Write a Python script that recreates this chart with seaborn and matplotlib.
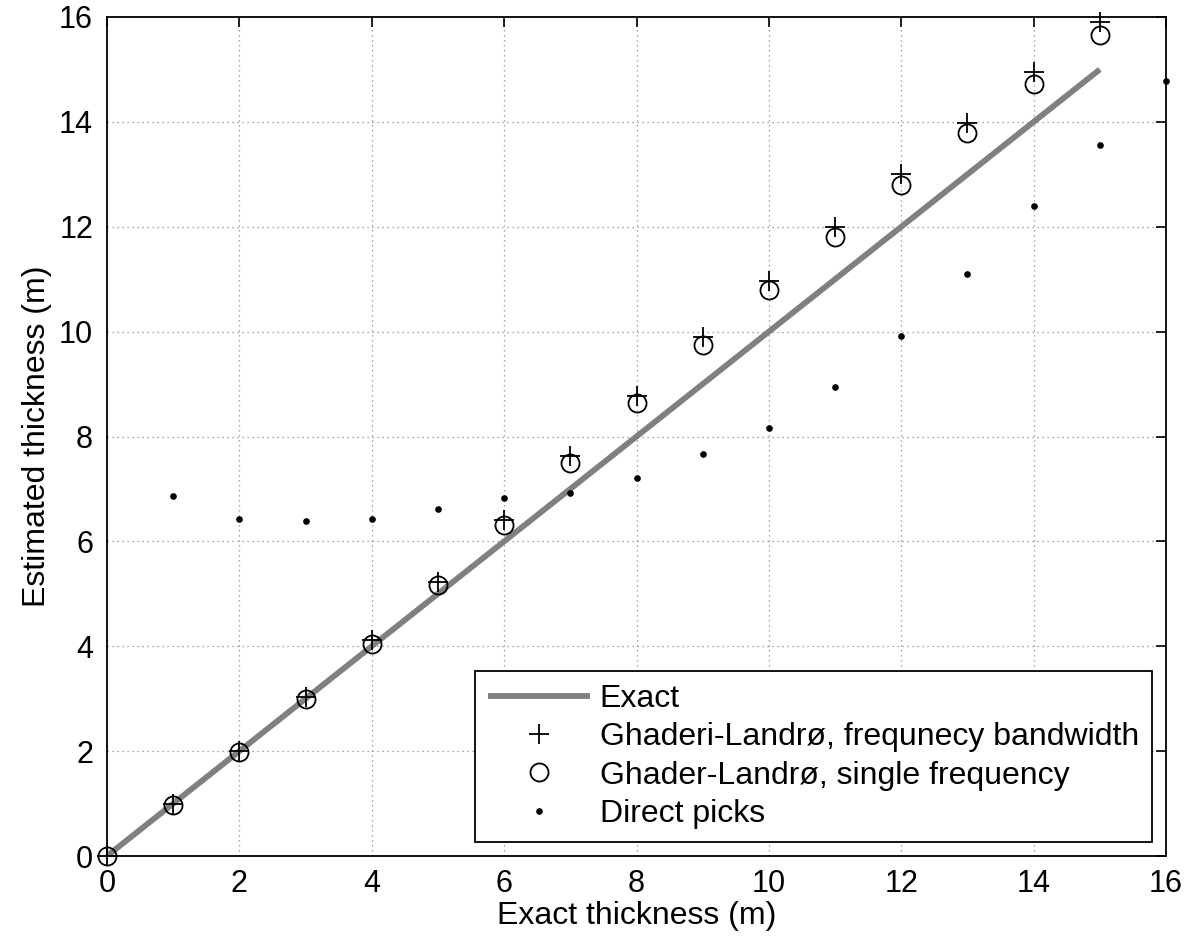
import matplotlib
matplotlib.use("Agg")
import matplotlib.pyplot as plt
import seaborn as sns
import numpy as np
import pandas as pd

# ---- data ----
exact_x = [0, 15]
exact_y = [0, 15]

gl_x = list(range(0, 16))
gl_band = [0.0, 1.0, 2.0, 3.04, 4.12, 5.23, 6.41, 7.63, 8.78, 9.90, 10.97, 11.99, 13.00, 13.98, 14.96, 15.90]
gl_single = [0.0, 0.97, 1.99, 3.0, 4.05, 5.16, 6.31, 7.50, 8.64, 9.75, 10.80, 11.81, 12.80, 13.78, 14.73, 15.66]

dp_x = list(range(1, 17))
dp_y = [6.86, 6.42, 6.39, 6.43, 6.62, 6.83, 6.92, 7.21, 7.67, 8.17, 8.95, 9.91, 11.10, 12.40, 13.55, 14.78]

xticks = [0, 2, 4, 6, 8, 10, 12, 14, 16]
yticks = [0, 2, 4, 6, 8, 10, 12, 14, 16]

labels = ["Exact", "Ghaderi-Landrø, frequnecy bandwidth",
          "Ghader-Landrø, single frequency", "Direct picks"]

sns.set_theme(style="white")
plt.rcParams['font.family'] = ['Liberation Sans', 'DejaVu Sans']
plt.rcParams['text.color'] = 'black'
plt.rcParams['axes.labelcolor'] = 'black'
plt.rcParams['xtick.color'] = 'black'
plt.rcParams['ytick.color'] = 'black'

fig = plt.figure(figsize=(11.88, 9.41), dpi=100)
ax = fig.add_axes([107/1188, 85/941, (1166-107)/1188, (856-17)/941])

sns.lineplot(x=exact_x, y=exact_y, ax=ax, color="#808080", linewidth=4.2,
             label=labels[0], solid_capstyle="butt")
sns.lineplot(x=gl_x, y=gl_band, ax=ax, color="black", linestyle="", marker="+",
             markersize=15, markeredgewidth=1.3, markeredgecolor="black",
             label=labels[1], clip_on=False)
sns.lineplot(x=gl_x, y=gl_single, ax=ax, color="black", linestyle="", marker="o",
             markersize=13, markerfacecolor="none", markeredgecolor="black",
             markeredgewidth=1.3, label=labels[2], clip_on=False)
sns.lineplot(x=dp_x, y=dp_y, ax=ax, color="black", linestyle="", marker="o",
             markersize=4.8, markeredgewidth=0, markeredgecolor="black",
             label=labels[3], clip_on=False)

ax.set_xlim(0, 16)
ax.set_ylim(0, 16)
ax.set_xticks(xticks)
ax.set_yticks(yticks)
ax.set_xticklabels([str(t) for t in xticks])
ax.set_yticklabels([str(t) for t in yticks])

ax.grid(True, linestyle=(0, (1, 3)), color="#888888", linewidth=0.9)
for s in ax.spines.values():
    s.set_visible(True)
    s.set_color("black")
    s.set_linewidth(1.3)

ax.tick_params(direction="in", length=7.5, width=1.2, top=True, right=True,
               labelsize=22, colors="black")
ax.tick_params(axis="y", pad=10)
ax.tick_params(axis="x", pad=9)

ax.set_xlabel("Exact thickness (m)", fontsize=23, color="black", labelpad=2)
ax.set_ylabel("Estimated thickness (m)", fontsize=23, color="black", labelpad=5)

leg = ax.legend(loc="lower right", fontsize=23, frameon=True, fancybox=False,
                edgecolor="black", framealpha=1, borderaxespad=0.45,
                handlelength=3.2, handletextpad=0.3, labelspacing=0.26,
                borderpad=0.4)
leg.get_frame().set_linewidth(1.3)
for t in leg.get_texts():
    t.set_color("black")

fig.savefig("out.png", dpi=100)
